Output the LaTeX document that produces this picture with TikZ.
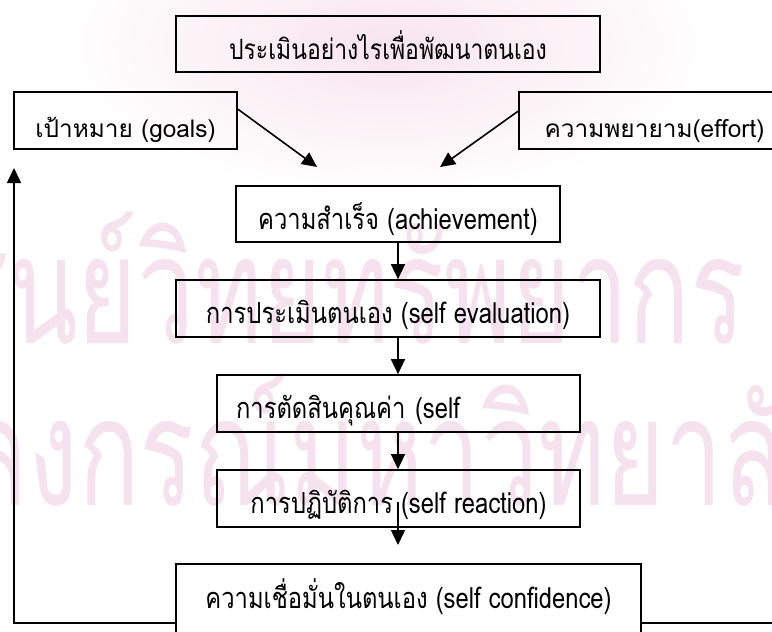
\documentclass[tikz,border=0pt]{standalone}
\usepackage{fontspec}
\newfontfamily\thai[Script=Thai]{Loma}
\newfontfamily\thain[Script=Thai,FakeStretch=0.82]{Loma}
\newfontfamily\thaiw[Script=Thai,FakeStretch=0.68]{Loma}
\usetikzlibrary{arrows.meta,calc}
\definecolor{wm}{RGB}{245,226,238}
\definecolor{pinkbg}{RGB}{248,228,237}
\begin{document}
\begin{tikzpicture}[x=1pt,y=-1pt,
  box/.style={draw=black,line width=1.7pt,rectangle,inner sep=0pt,minimum height=57pt},
  wide/.style={font=\thai\fontsize{24.4}{28}\selectfont,text height=34pt,text depth=0pt},
  narrow/.style={font=\thain\fontsize{29}{33}\selectfont,text height=30pt,text depth=0pt},
  arr/.style={line width=1.6pt,-{Triangle[width=14pt,length=15pt]}},
  ln/.style={line width=1.6pt},
  wmtext/.style={text=wm,inner sep=0pt,font=\thaiw\fontsize{150}{150}\selectfont}]
\useasboundingbox (0,0) rectangle (772,632);
\clip (0,0) rectangle (772,632);
% background watermark
\shade[inner color=pinkbg, outer color=white] (388,45) ellipse (330 and 150);
\node[wmtext,anchor=base east] (wm1) at (745,343) {ศูนย์วิทยทรัพยากร};
\node[wmtext,anchor=base east] (wm2) at (845,505) {จุฬาลงกรณ์มหาวิทยาลัย};
% boxes
\node[box,narrow,font=\thain\fontsize{28}{32}\selectfont,minimum width=424pt,minimum height=56pt] (top) at (388,44) {ประเมินอย่างไรเพื่อพัฒนาตนเอง};
\node[box,wide,minimum width=223pt] (goals) at (125.5,120.5) {เป้าหมาย (goals)};
\node[box,wide,minimum width=271pt] (effort) at (654.5,120.5) {ความพยายาม(effort)};
\node[box,narrow,minimum width=324pt,minimum height=56pt] (ach) at (398,214) {ความสำเร็จ (achievement)};
\node[box,narrow,minimum width=424pt] (eval) at (388,308.5) {การประเมินตนเอง (self evaluation)};
\node[box,narrow,text width=325pt,align=left,inner xsep=19pt] (judge) at (398.5,403.5) {การตัดสินคุณค่า (self};
\node[box,narrow,minimum width=363pt] (react) at (398.5,498.5) {การปฏิบัติการ (self reaction)};
\node[box,narrow,text height=14pt,text depth=16pt,minimum width=465pt,minimum height=90pt] (conf) at (408.5,609) {ความเชื่อมั่นในตนเอง (self confidence)};
% connectors
\coordinate (gtip) at (317,167);
\coordinate (etip) at (440,167);
\draw[arr] ($(goals.north east)+(0,18)$) -- (gtip);
\draw[arr] ($(effort.north west)+(0,20)$) -- (etip);
\draw[arr] (ach.south) -- (ach.south |- eval.north);
\draw[arr] (ach.south |- eval.south) -- (ach.south |- judge.north);
\draw[arr] (ach.south |- judge.south) -- (ach.south |- react.north);
\coordinate (rtip) at (398,545);
\draw[arr] (398,502) -- (rtip);
\coordinate (fbl) at (14,623);
\coordinate (fbt) at (14,168);
\draw[arr] (conf.west |- fbl) -- (fbl) -- (fbt);
\coordinate (fbr) at (780,623);
\draw[ln] (conf.east |- fbr) -- (fbr);
\end{tikzpicture}
\end{document}
